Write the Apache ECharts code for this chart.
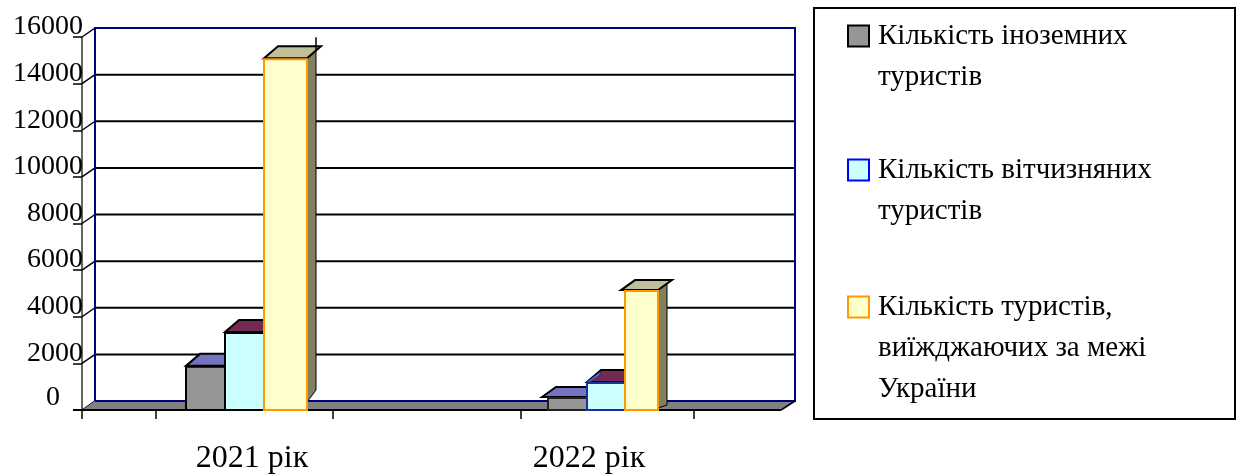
<!DOCTYPE html>
<html>
<head>
<meta charset="utf-8">
<style>
  html, body { margin: 0; padding: 0; background: #fff; }
  #chart { width: 1240px; height: 475px; }
</style>
<script src="https://cdn.jsdelivr.net/npm/echarts@6/dist/echarts.min.js"></script>
</head>
<body>
<div id="chart"></div>
<script>
const categories = ['2021 рік', '2022 рік']
const foreignTourists = [1850, 515]
const domesticTourists = [3300, 1160]
const outboundTourists = [15050, 5100]
const yTicks = [0, 2000, 4000, 6000, 8000, 10000, 12000, 14000, 16000]
const legendNames = [
  'Кількість іноземних\nтуристів',
  'Кількість вітчизняних\nтуристів',
  'Кількість туристів,\nвиїжджаючих за межі\nУкраїни',
]

const FONT = '"Liberation Serif", serif'
// bar edges relative to the category centre, one row per year
const barEdges = [[-66, -27, 12, 55], [-41, -2, 36, 69]]
const frontColors = ['#969696', '#ccffff', '#ffffcc']
const topColors = ['#7373bf', '#722a52', '#bfbf9b']
const sideColors = ['#4c4c7f', '#4c1c36', '#80805f']
const strokeColors = [['#000', '#000', '#ff9900'], ['#222', '#1c2f9c', '#ff9900']]
// how far the side face stops short of the floor: [front, back]
const sideLift = [[8, 20], [2, 5]]
// the tops of some 2022 bars hang a little to the left
const topLean = [[0, 0, 0], [-6, 0, -4]]

const chart = echarts.init(document.getElementById('chart'))

function renderWall(params, api) {
  const v = api.value(0)
  const y = api.coord([0, v])[1]
  const x = 82
  const children = [{
    type: 'line',
    shape: { x1: x, y1: y, x2: x + 13, y2: y - 9 },
    style: { stroke: '#000', lineWidth: 1.5 },
  }]
  if (v !== 0 && v !== 16000) {
    children.push({
      type: 'line',
      shape: { x1: x + 13, y1: y - 9, x2: 795, y2: y - 9 },
      style: { stroke: '#000', lineWidth: 2 },
    })
  }
  return { type: 'group', children }
}

function renderBar(s) {
  return function (params, api) {
    const cat = api.value(0)
    const top = api.coord([cat, api.value(1)])
    const base = api.coord([cat, 0])[1]
    const x0 = top[0] + barEdges[cat][s]
    const x1 = top[0] + barEdges[cat][s + 1]
    const y = top[1]
    const stroke = strokeColors[cat][s]
    const lift = sideLift[cat]
    const children = []
    const dx = 14
    const dy = cat === 1 && s !== 1 ? 10 : 12
    const lean = topLean[cat][s]
    children.push({
      type: 'polygon',
      shape: { points: [[x1, y], [x1 + 9, y - dy], [x1 + 9, base - lift[1]], [x1, base - lift[0]]] },
      style: { fill: sideColors[s], stroke: '#000', lineWidth: 1 },
    })
    children.push({
      type: 'polygon',
      shape: { points: [[x0 + lean, y - 1], [x0 + lean + dx, y - dy - 1], [x1 + dx, y - dy - 1], [x1, y - 1]] },
      style: { fill: topColors[s], stroke: '#000', lineWidth: 2 },
    })
    if (cat === 1 && s === 1) {
      children.push({
        type: 'polygon',
        shape: { points: [[x0, y - 1], [x0 + 13, y - 11], [x0 + 13, y - 8], [x0 + 3, y - 1]] },
        style: { fill: topColors[0], stroke: '#1c2f9c', lineWidth: 1 },
      })
    }
    if (cat === 0 && s === 2) {
      children.push({
        type: 'line',
        shape: { x1: x1 + 9, y1: y - 22, x2: x1 + 9, y2: y - 9 },
        style: { stroke: '#000', lineWidth: 1.5 },
      })
    }
    children.push({
      type: 'rect',
      shape: { x: x0, y, width: x1 - x0, height: base - y },
      style: { fill: frontColors[s], stroke, lineWidth: 2 },
    })
    return { type: 'group', children }
  }
}

function barSeries(name, values, s) {
  return {
    name,
    type: 'custom',
    z: 3,
    renderItem: renderBar(s),
    encode: { x: 0, y: 1 },
    data: values.map((v, i) => [i, v]),
    itemStyle: { color: frontColors[s], borderColor: s === 1 ? '#0000ff' : s === 2 ? '#ff9900' : '#000', borderWidth: 1.5 },
    animation: false,
  }
}

function legendBox(i, top) {
  return {
    left: 847,
    top,
    orient: 'vertical',
    padding: 0,
    selectedMode: false,
    itemWidth: 21,
    itemHeight: 21,
    itemGap: 0,
    icon: 'rect',
    data: [legendNames[i]],
    // blank lines keep the swatch level with the first text line
    formatter: (n) => '\n'.repeat(n.split('\n').length - 1) + n,
    textStyle: { fontFamily: FONT, fontSize: 29, lineHeight: 41, color: '#000', padding: [0, 0, 5, 4] },
  }
}

const xTickMarks = [82, 156, 333, 521, 694].map((x) => ({
  type: 'line',
  z: 2,
  shape: { x1: x, y1: 410, x2: x, y2: 419 },
  style: { stroke: '#000', lineWidth: 1.5 },
}))

chart.setOption({
  animation: false,
  backgroundColor: '#fff',
  grid: { left: 83.5, width: 674, top: 37, height: 373 },
  legend: [legendBox(0, -28), legendBox(1, 106), legendBox(2, 202)],
  xAxis: {
    type: 'category',
    data: categories,
    axisLine: { show: false },
    axisTick: { show: false },
    axisLabel: { color: '#000', fontFamily: FONT, fontSize: 32, margin: 33 },
  },
  yAxis: {
    type: 'value',
    min: 0,
    max: 16000,
    interval: 2000,
    offset: 1.5,
    splitLine: { show: false },
    axisLine: { show: true, lineStyle: { color: '#333', width: 1.5 } },
    axisTick: { show: true, length: 9, lineStyle: { color: '#000', width: 1.5 } },
    axisLabel: {
      color: '#000', fontFamily: FONT, fontSize: 28, margin: -1,
      verticalAlign: 'bottom',
      lineHeight: 20,
      formatter: (v) => (v === 0 ? '{zero|0}' : String(v)),
      rich: {
        zero: { fontFamily: FONT, fontSize: 28, lineHeight: 24, color: '#000', padding: [0, 23, 0, 0] },
      },
    },
  },
  graphic: { elements: [
    {
      type: 'polygon', z: 2,
      shape: { points: [[82, 410], [95, 401], [795, 401], [781, 410]] },
      style: { fill: '#808080' },
    },
    {
      type: 'polyline', z: 2,
      shape: { points: [[95, 401], [95, 28], [795, 28], [795, 401], [95, 401]] },
      style: { fill: 'none', stroke: '#000080', lineWidth: 2 },
    },
    {
      type: 'line', z: 2,
      shape: { x1: 795, y1: 401, x2: 781, y2: 410 },
      style: { stroke: '#000', lineWidth: 1.5 },
    },
    {
      type: 'line', z: 2,
      shape: { x1: 73, y1: 410, x2: 781, y2: 410 },
      style: { stroke: '#000', lineWidth: 2 },
    },
    ...xTickMarks,
    {
      type: 'rect', z: 2,
      shape: { x: 814, y: 8, width: 421, height: 411 },
      style: { fill: 'none', stroke: '#000', lineWidth: 2 },
    },
  ] },
  series: [
    {
      name: 'wall',
      type: 'custom',
      z: 1,
      renderItem: renderWall,
      encode: { y: 0 },
      data: yTicks.map((v) => [v]),
      animation: false,
    },
    barSeries(legendNames[0], foreignTourists, 0),
    barSeries(legendNames[1], domesticTourists, 1),
    barSeries(legendNames[2], outboundTourists, 2),
  ],
})

window.addEventListener('resize', () => chart.resize())
</script>
</body>
</html>
